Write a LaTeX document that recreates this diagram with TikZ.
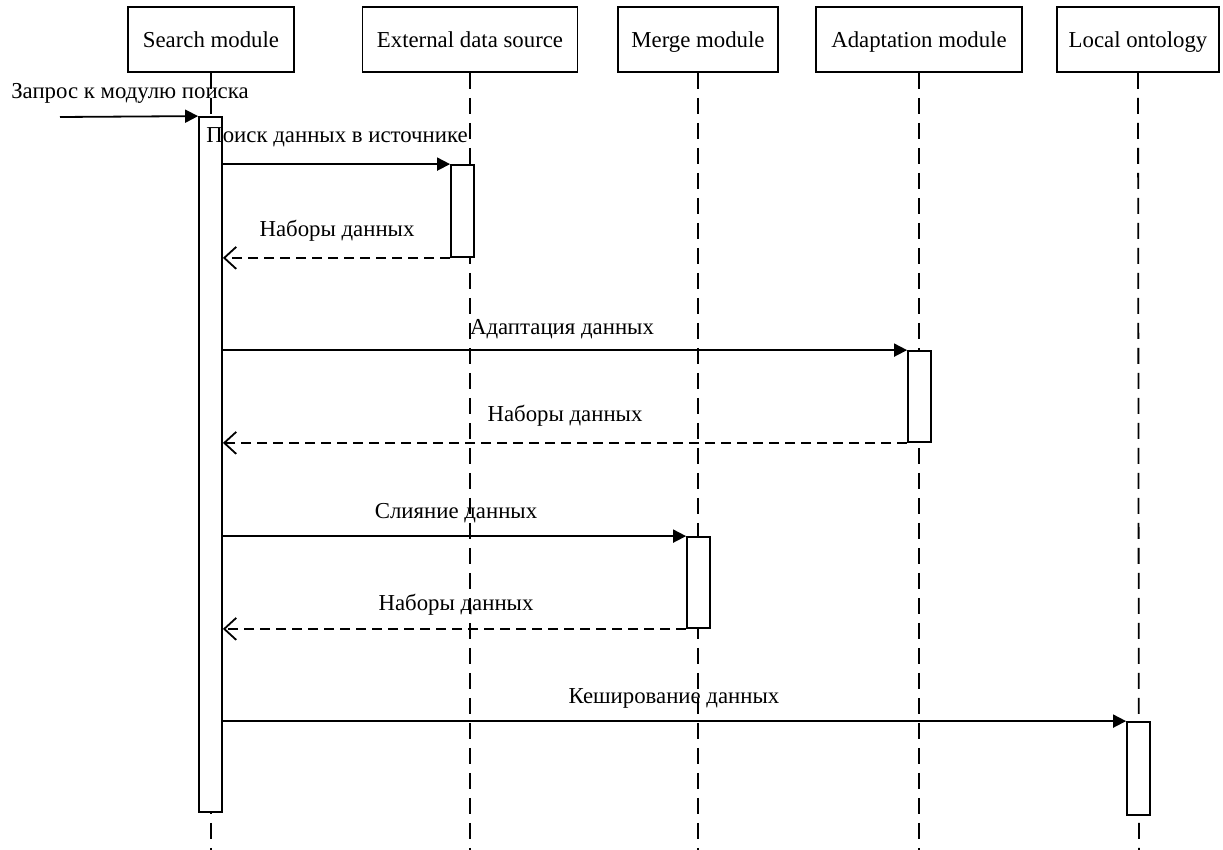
\documentclass[tikz,border=0pt]{standalone}
\usepackage{fontspec}
\setmainfont{Liberation Serif}
\usetikzlibrary{arrows.meta}
\tikzset{
  txt/.style={font=\fontsize{22.8}{27}\selectfont},
  head/.style={draw, line width=1.8pt, minimum height=65pt, inner sep=0pt, text height=21pt, text depth=4pt, txt},
  lifeline/.style={line width=1.8pt, dash pattern=on 16pt off 9pt},
  act/.style={draw, fill=white, line width=1.8pt, minimum width=23pt, inner sep=0pt},
  call/.style={line width=1.8pt, -{Triangle[length=13pt,width=13pt]}},
  reply/.style={line width=1.8pt, dash pattern=on 10pt off 6pt, -{Straight Barb[length=12pt,width=22pt,line width=1.8pt]}},
  lbl/.style={inner sep=0pt, anchor=base, txt}
}
\begin{document}
\begin{tikzpicture}[x=1pt,y=-1pt]
\useasboundingbox (0,0) rectangle (1223,850);

% participants
\node[head, minimum width=166pt] (hs) at (211,39.5) {Search module};
\node[head, minimum width=215pt] (he) at (470,39.5) {External data source};
\node[head, minimum width=160pt] (hm) at (698,39.5) {Merge module};
\node[head, minimum width=206pt] (ha) at (919,39.5) {Adaptation module};
\node[head, minimum width=162pt] (hl) at (1138,39.5) {Local ontology};

% lifeline ends
\coordinate (es) at (211,850);
\coordinate (ee) at (470,850);
\coordinate (em) at (698,850);
\coordinate (ea) at (919,850);
\coordinate (el) at (1139,850);

\draw[lifeline] (hs.south) -- (es);
\draw[lifeline] (he.south) -- (ee);
\draw[lifeline] (hm.south) -- (em);
\draw[lifeline] (ha.south) -- (ea);
\draw[lifeline] (hl.south) -- (el);

% activations
\node[act, minimum height=695pt] (as) at (210.5,464.5) {};
\node[act, minimum height=92pt] (ae) at (462.5,211) {};
\node[act, minimum height=91pt] (aa) at (919.5,396.5) {};
\node[act, minimum height=91pt] (am) at (698.5,582.5) {};
\node[act, minimum height=93pt] (al) at (1138.5,768.5) {};

% incoming request
\coordinate (src) at (60,117);
\draw[call] (src) -- (as.north west);
\node[lbl] (t0) at (130,99) {Запрос к модулю поиска};

% external data source
\draw[call] (as.east |- ae.north) -- (ae.north west);
\node[lbl] (t1) at (337,143) {Поиск данных в источнике};
\draw[reply] (ae.south west) -- (as.east |- ae.south);
\node[lbl] (t2) at (337,237) {Наборы данных};

% adaptation
\draw[call] (as.east |- aa.north) -- (aa.north west);
\node[lbl] (t3) at (562,334) {Адаптация данных};
\draw[reply] (aa.south west) -- (as.east |- aa.south);
\node[lbl] (t4) at (565,421) {Наборы данных};

% merge
\draw[call] (as.east |- am.north) -- (am.north west);
\node[lbl] (t5) at (456,518) {Слияние данных};
\draw[reply] (am.south west) -- (as.east |- am.south);
\node[lbl] (t6) at (456,610) {Наборы данных};

% caching
\draw[call] (as.east |- al.north) -- (al.north west);
\node[lbl] (t7) at (674,703) {Кеширование данных};
\end{tikzpicture}
\end{document}
